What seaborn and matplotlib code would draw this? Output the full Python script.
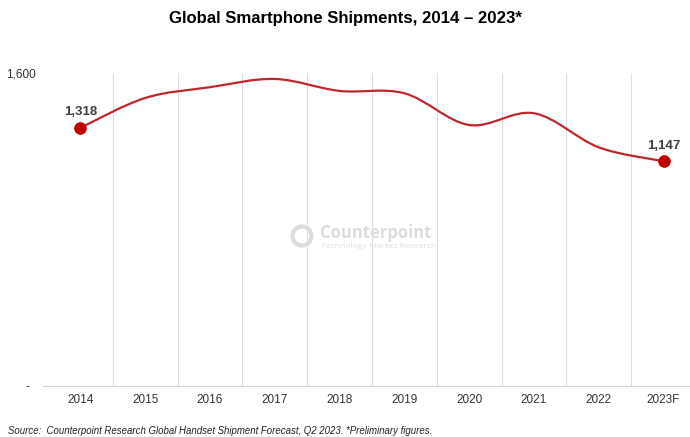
import numpy as np
import pandas as pd
import matplotlib
matplotlib.use('Agg')
import matplotlib.pyplot as plt
from matplotlib.path import Path
from matplotlib.patches import PathPatch, Ellipse
import seaborn as sns

# Data (millions of units)
years = ['2014', '2015', '2016', '2017', '2018', '2019', '2020', '2021', '2022', '2023F']
shipments = [1318, 1470, 1525, 1567, 1506, 1494, 1332, 1392, 1218, 1147]
y_ticks = [0, 1600]
y_tick_labels = ['-  ', '1,600']

df = pd.DataFrame({'Year': years, 'Shipments': shipments})

sns.set_theme(style='white')
plt.rcParams['font.family'] = ['Liberation Sans', 'DejaVu Sans']

fig = plt.figure(figsize=(6.9, 4.37), dpi=100)
ax = fig.add_axes([43 / 690, 1 - 386 / 437, 647 / 690, (386 - 72.5) / 437])

x = np.arange(len(df))
y = df['Shipments'].to_numpy(dtype=float)

# smoothed line (cubic bezier through the points, like a spreadsheet "smoothed line")
verts = [(x[0], y[0])]
codes = [Path.MOVETO]
for i in range(len(x) - 1):
    p0 = (x[i - 1], y[i - 1]) if i > 0 else (x[i], y[i])
    p1 = (x[i], y[i])
    p2 = (x[i + 1], y[i + 1])
    p3 = (x[i + 2], y[i + 2]) if i + 2 < len(x) else p2
    c1 = (p1[0] + (p2[0] - p0[0]) / 6, p1[1] + (p2[1] - p0[1]) / 6)
    c2 = (p2[0] - (p3[0] - p1[0]) / 6, p2[1] - (p3[1] - p1[1]) / 6)
    verts += [c1, c2, p2]
    codes += [Path.CURVE4] * 3
ax.add_patch(PathPatch(Path(verts, codes), facecolor='none', edgecolor='#C0272D', lw=1.6, zorder=3))

# end point markers
ends = df.iloc[[0, -1]]
sns.scatterplot(x=[x[0], x[-1]], y=ends['Shipments'], color='#C00000', s=70, edgecolor='#C00000',
                zorder=4, ax=ax, legend=False)
for xi, val in zip([x[0], x[-1]], ends['Shipments']):
    ax.annotate(f'{val:,}', (xi, val), xytext=(0, 7), textcoords='offset points', ha='center',
                va='bottom', fontsize=9.5, fontweight='bold', color='#404040')

ax.set_xlim(-0.5 - 5 / 64.8, 9.5 - 6 / 64.8)
ax.set_ylim(0, 1600)
ax.set_xticks(x)
ax.set_xticklabels(years, fontsize=8.5, color='#333333')
ax.set_yticks(y_ticks)
ax.set_yticklabels(y_tick_labels, fontsize=8.5, color='#333333')
ax.tick_params(axis='x', length=0, pad=6)
ax.tick_params(axis='y', length=0, pad=5)

# vertical gridlines between categories
for b in np.arange(0.5, len(x) - 0.5, 1):
    ax.axvline(b, color='#dedede', lw=0.8, zorder=1)
for s in ['top', 'right', 'left']:
    ax.spines[s].set_visible(False)
ax.spines['bottom'].set_color('#d0d0d0')
ax.spines['bottom'].set_linewidth(0.8)
ax.set_xlabel('')
ax.set_ylabel('')

# watermark
fig.text(320 / 690, 1 - 233 / 437, 'Counterpoint', fontsize=12, fontweight='bold', color='#dcdcdc',
         family='Open Sans', ha='left', va='center', zorder=0)
fig.text(321 / 690, 1 - 247 / 437, 'Technology Market Research', fontsize=6.1, color='#e0e0e0',
         family='Open Sans', ha='left', va='center', zorder=0)
fig.patches.append(Ellipse((302 / 690, 1 - 236 / 437), 19 / 690, 19 / 437, transform=fig.transFigure,
                           facecolor='none', edgecolor='#dcdcdc', lw=3, zorder=0))

fig.text(0.5, 1 - 18 / 437, 'Global Smartphone Shipments, 2014 \u2013 2023*', ha='center', va='center',
         fontsize=12.1, fontweight='bold', color='black')
fig.text(8 / 690, 1 - 431 / 437,
         'Source:  Counterpoint Research Global Handset Shipment Forecast, Q2 2023. *Preliminary figures.',
         ha='left', va='center', fontsize=6.9, style='italic', color='#222222')

fig.savefig('out.png', dpi=100)
